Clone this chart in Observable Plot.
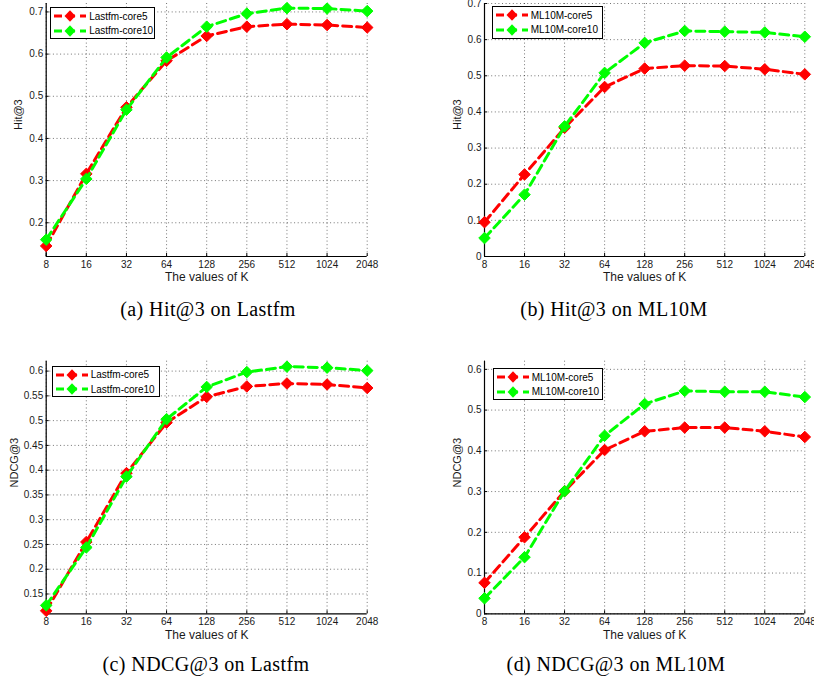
<!DOCTYPE html>
<html><head><meta charset="utf-8">
<script src="https://cdn.jsdelivr.net/npm/d3@7"></script>
<script src="https://cdn.jsdelivr.net/npm/@observablehq/plot@0.6"></script>
<style>
body{margin:0;background:#fff;}
#root{position:relative;width:814px;height:683px;overflow:hidden;font-family:"Liberation Sans",Arial,sans-serif;}
.panel{position:absolute;}
.legend{position:absolute;background:#fff;border:1.5px solid #000;box-sizing:border-box;font-size:10px;color:#000;}
.legend .row{position:absolute;left:0;height:14px;display:flex;align-items:center;}
.legend svg{display:block;}
.caption{position:absolute;font-family:"Liberation Serif","DejaVu Serif",serif;font-size:20px;letter-spacing:0.4px;transform:translateX(-50%);white-space:nowrap;color:#000;}
</style></head><body><div id="root"></div>
<script>
// ---- data ----
const kValues = [8, 16, 32, 64, 128, 256, 512, 1024, 2048];
const xLabel = "The values of K";

const hitLastfmCore5  = [0.145, 0.316, 0.474, 0.584, 0.643, 0.665, 0.671, 0.669, 0.663];
const hitLastfmCore10 = [0.160, 0.304, 0.468, 0.592, 0.665, 0.696, 0.709, 0.708, 0.702];
const hitML10MCore5   = [0.095, 0.227, 0.356, 0.469, 0.520, 0.528, 0.527, 0.518, 0.504];
const hitML10MCore10  = [0.051, 0.171, 0.360, 0.508, 0.591, 0.624, 0.622, 0.620, 0.608];
const ndcgLastfmCore5  = [0.116, 0.255, 0.394, 0.496, 0.548, 0.569, 0.575, 0.573, 0.566];
const ndcgLastfmCore10 = [0.127, 0.244, 0.387, 0.503, 0.568, 0.598, 0.609, 0.607, 0.601];
const ndcgML10MCore5   = [0.076, 0.188, 0.301, 0.402, 0.448, 0.457, 0.457, 0.448, 0.434];
const ndcgML10MCore10  = [0.038, 0.139, 0.301, 0.437, 0.515, 0.547, 0.545, 0.545, 0.532];

const hitLastfmTicks  = [0.2, 0.3, 0.4, 0.5, 0.6, 0.7];
const hitML10MTicks   = [0, 0.1, 0.2, 0.3, 0.4, 0.5, 0.6, 0.7];
const ndcgLastfmTicks = [0.15, 0.2, 0.25, 0.3, 0.35, 0.4, 0.45, 0.5, 0.55, 0.6];
const ndcgML10MTicks  = [0, 0.1, 0.2, 0.3, 0.4, 0.5, 0.6];

const lastfmNames = ["Lastfm-core5", "Lastfm-core10"];
const ml10mNames  = ["ML10M-core5", "ML10M-core10"];
const yLabels  = ["Hit@3", "Hit@3", "NDCG@3", "NDCG@3"];
const captions = ["(a) Hit@3 on Lastfm", "(b) Hit@3 on ML10M", "(c) NDCG@3 on Lastfm", "(d) NDCG@3 on ML10M"];
const seriesColors = ["#ff0000", "#00ff00"];

// ---- layout ----
const panels = [
  {left: 0,   top: 0,   w: 400, h: 290, ml: 45.7, mr: 33.3, mt: 3,    mb: 34,   ydom: [0.12, 0.72], ticks: hitLastfmTicks,  s: [hitLastfmCore5, hitLastfmCore10],   names: lastfmNames, lg: {dx: 4.5, dy: 4.3, w: 105, h: 32},  ylOff: 27.4, cap: {x: 208, y: 298}},
  {left: 410, top: 0,   w: 404, h: 290, ml: 74,   mr: 9.7,  mt: 3,    mb: 34,   ydom: [0, 0.7],     ticks: hitML10MTicks,   s: [hitML10MCore5, hitML10MCore10],     names: ml10mNames,  lg: {dx: 7.7, dy: 3,   w: 111, h: 33},  ylOff: 27.3, cap: {x: 614, y: 298}},
  {left: 0,   top: 325, w: 400, h: 320, ml: 45.7, mr: 33.3, mt: 35.7, mb: 31.7, ydom: [0.11, 0.62], ticks: ndcgLastfmTicks, s: [ndcgLastfmCore5, ndcgLastfmCore10], names: lastfmNames, lg: {dx: 6,   dy: 5,   w: 108, h: 31},  ylOff: 31.7, cap: {x: 206, y: 653}},
  {left: 410, top: 325, w: 404, h: 320, ml: 74,   mr: 9.7,  mt: 35.7, mb: 31.7, ydom: [0, 0.62],    ticks: ndcgML10MTicks,  s: [ndcgML10MCore5, ndcgML10MCore10],   names: ml10mNames,  lg: {dx: 8.7, dy: 7.6, w: 110, h: 32},  ylOff: 27.3, cap: {x: 616, y: 653}}
];

const root = document.getElementById("root");
const gridStyle = {stroke: "#000", strokeOpacity: 0.55, strokeDasharray: "1,2.6", strokeWidth: 1};

panels.forEach((p, i) => {
  const series = p.s.map((vals, j) => kValues.map((k, idx) => ({k, v: vals[idx], name: p.names[j]})));
  const marks = [
    Plot.gridX(kValues, gridStyle),
    Plot.gridY(p.ticks, gridStyle),
    Plot.ruleX([kValues[0]], {stroke: "#000", strokeWidth: 1.2}),
    Plot.ruleY([p.ydom[0]], {stroke: "#000", strokeWidth: 1.2}),
    Plot.axisX(kValues, {tickSize: -3, tickPadding: 7, tickFormat: d => String(d), label: null, fontSize: 10, fill: "#1a1a1a"}),
    Plot.axisY(p.ticks, {tickSize: -3, tickPadding: 6, tickFormat: d => String(d), label: null, fontSize: 10, fill: "#1a1a1a"}),
    Plot.text([xLabel], {frameAnchor: "bottom", lineAnchor: "middle", dy: 21, fontSize: 12, fill: "#1a1a1a"}),
    Plot.text([yLabels[i]], {frameAnchor: "left", lineAnchor: "middle", dx: -p.ylOff, rotate: -90, fontSize: 11, fill: "#1a1a1a"})
  ];
  series.forEach((d, j) => {
    marks.push(Plot.line(d, {x: "k", y: "v", stroke: seriesColors[j], strokeWidth: 3, strokeDasharray: "9,5"}));
    marks.push(Plot.dot(d, {x: "k", y: "v", symbol: "diamond2", r: 5.2, fill: seriesColors[j], stroke: seriesColors[j], strokeWidth: 1}));
  });
  const chart = Plot.plot({
    width: p.w, height: p.h,
    marginLeft: p.ml, marginRight: p.mr, marginTop: p.mt, marginBottom: p.mb,
    x: {type: "log", base: 2, domain: [kValues[0], kValues[kValues.length - 1]]},
    y: {domain: p.ydom},
    style: {fontFamily: "'Liberation Sans', Arial, sans-serif", fontSize: "10px", background: "transparent", overflow: "visible"},
    marks
  });
  const div = document.createElement("div");
  div.className = "panel";
  div.style.left = p.left + "px";
  div.style.top = p.top + "px";
  div.appendChild(chart);
  root.appendChild(div);

  // legend
  const lg = document.createElement("div");
  lg.className = "legend";
  lg.style.left = (p.left + p.ml + p.lg.dx) + "px";
  lg.style.top = (p.top + p.mt + p.lg.dy) + "px";
  lg.style.width = p.lg.w + "px";
  lg.style.height = p.lg.h + "px";
  p.names.forEach((name, j) => {
    const row = document.createElement("div");
    row.className = "row";
    row.style.top = (1 + j * 14.6) + "px";
    row.innerHTML = `<svg width="38" height="14"><line x1="3" x2="35" y1="7" y2="7" stroke="${seriesColors[j]}" stroke-width="3" stroke-dasharray="8,5"/><path d="M19,1.3L24.5,7L19,12.7L13.5,7Z" fill="${seriesColors[j]}"/></svg><span>${name}</span>`;
    lg.appendChild(row);
  });
  root.appendChild(lg);

  // caption
  const cap = document.createElement("div");
  cap.className = "caption";
  cap.style.left = p.cap.x + "px";
  cap.style.top = p.cap.y + "px";
  cap.textContent = captions[i];
  root.appendChild(cap);
});
</script></body></html>
